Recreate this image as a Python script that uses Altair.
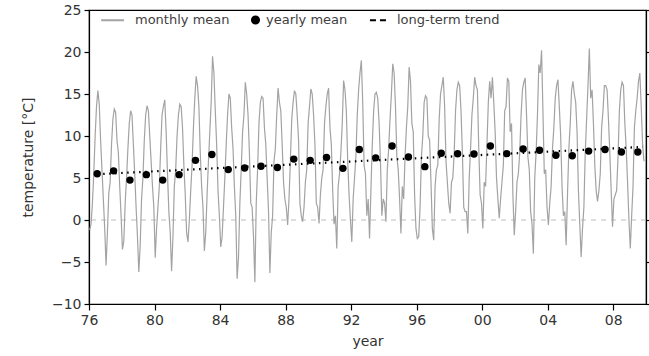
import altair as alt
import pandas as pd

# ---------------- data ----------------
first_year = 1976
monthly_mean = [
    -1.2, -0.5, 2.0, 5.5, 10.0, 13.5, 15.4, 13.8, 9.5, 6.0, 2.5, -1.0,      # 1976
    -5.4, -1.5, 3.2, 4.5, 9.0, 12.0, 13.2, 12.8, 9.5, 8.0, 4.0, 0.5,        # 1977
    -3.5, -2.5, 2.0, 5.0, 8.5, 11.5, 13.0, 12.5, 9.0, 5.5, 1.5, -2.0,       # 1978
    -6.2, -3.0, 2.5, 5.0, 9.5, 12.5, 13.6, 13.0, 10.0, 7.0, 4.0, 1.5,       # 1979
    -4.5, -1.0, 1.5, 4.0, 8.5, 12.5, 13.5, 14.3, 10.5, 5.5, 1.0, -1.5,      # 1980
    -6.1, -2.0, 4.0, 6.0, 10.0, 12.5, 13.8, 13.5, 11.0, 6.5, 3.0, -1.5,     # 1981
    -2.6, 0.0, 3.5, 6.5, 11.0, 14.5, 17.1, 16.0, 13.5, 8.0, 4.0, 1.5,       # 1982
    -3.7, -1.5, 3.0, 7.0, 10.5, 14.0, 19.5, 17.5, 13.0, 9.0, 3.5, 0.5,      # 1983
    -3.2, -2.0, 1.5, 5.0, 9.0, 12.5, 15.0, 14.5, 11.0, 8.5, 4.0, 0.5,       # 1984
    -7.0, -4.5, 2.0, 6.0, 10.5, 12.5, 16.4, 15.0, 12.5, 8.0, 2.0, 1.5,      # 1985
    -2.0, -7.4, 2.0, 6.0, 11.5, 14.0, 14.7, 14.5, 11.0, 9.0, 5.0, 1.0,      # 1986
    -6.3, -1.5, 0.5, 7.0, 8.5, 12.5, 15.7, 14.0, 13.0, 9.0, 4.5, 2.5,       # 1987
    1.5, -0.6, 2.5, 7.0, 12.0, 14.0, 15.4, 15.0, 12.5, 9.5, 2.0, 0.5,       # 1988
    -0.2, 1.5, 4.5, 6.0, 11.5, 13.5, 15.6, 15.0, 12.5, 9.0, 2.0, 1.5,       # 1989
    -0.4, 3.0, 5.0, 6.0, 11.5, 13.5, 15.0, 15.7, 11.0, 9.0, 3.5, -0.5,      # 1990
    0.5, -3.4, 4.0, 5.5, 8.0, 11.5, 16.6, 15.5, 13.0, 7.0, 3.0, 0.0,        # 1991
    -2.6, 2.5, 5.0, 7.5, 12.5, 15.5, 17.5, 19.0, 14.0, 6.5, 5.5, 0.5,       # 1992
    2.5, -2.2, 3.5, 9.0, 13.0, 15.0, 15.2, 14.5, 11.5, 7.0, 0.5, 2.5,       # 1993
    2.0, -0.2, 6.0, 8.5, 12.0, 15.0, 18.6, 17.5, 13.5, 7.5, 6.0, 2.5,       # 1994
    -1.6, 4.0, 2.5, 7.5, 11.0, 13.5, 18.2, 16.5, 11.5, 10.5, 3.0, -1.0,     # 1995
    -2.2, -2.0, 1.5, 7.5, 10.0, 14.0, 14.8, 14.5, 10.0, 9.5, 4.5, -1.0,     # 1996
    -2.4, 4.0, 6.0, 6.5, 12.0, 15.0, 16.0, 17.0, 13.5, 7.0, 4.5, 2.0,       # 1997
    0.8, 4.5, 5.0, 8.0, 13.0, 15.5, 16.4, 16.0, 13.0, 8.0, 1.5, 1.0,        # 1998
    1.0, -1.6, 5.0, 8.5, 12.5, 14.5, 17.0, 16.0, 15.5, 8.5, 3.0, 2.0,       # 1999
    -1.0, 4.5, 4.0, 9.0, 14.0, 16.5, 14.5, 17.0, 14.0, 10.5, 5.0, 2.5,      # 2000
    0.2, 2.5, 4.5, 6.5, 13.0, 13.5, 16.9, 16.5, 10.5, 11.5, 3.0, -1.8,      # 2001
    1.0, 4.5, 5.5, 8.0, 12.5, 15.5, 16.4, 16.9, 12.5, 7.5, 6.0, 1.0,        # 2002
    -0.5, -4.0, 5.0, 8.0, 12.5, 18.5, 17.5, 20.2, 13.0, 5.5, 6.0, 1.5,      # 2003
    -0.6, 2.0, 4.0, 8.5, 11.0, 14.5, 16.0, 16.7, 13.5, 10.0, 4.0, 0.5,      # 2004
    1.0, -3.0, 3.0, 8.5, 11.5, 15.5, 16.5, 15.0, 14.0, 10.5, 3.5, -0.5,     # 2005
    -4.4, -1.0, 1.5, 8.0, 12.0, 16.0, 20.4, 14.5, 15.5, 11.5, 6.5, 3.5,     # 2006
    2.2, 3.5, 5.5, 11.0, 13.0, 16.0, 16.0, 15.5, 12.0, 8.0, 3.5, -0.8,      # 2007
    2.5, 3.0, 3.5, 7.5, 13.0, 15.5, 16.4, 16.0, 11.5, 8.5, 4.5, 0.0,        # 2008
    -3.4, 0.5, 4.0, 11.0, 13.0, 14.5, 16.5, 17.5, 13.5, 9.0, 7.0,           # 2009
]

yearly_years = list(range(1976, 2010))
yearly_mean = [5.5, 5.85, 4.75, 5.4, 4.75, 5.4, 7.1, 7.8, 6.0, 6.2,
               6.4, 6.25, 7.25, 7.1, 7.45, 6.15, 8.4, 7.4, 8.8, 7.5,
               6.35, 7.95, 7.9, 7.85, 8.8, 7.9, 8.45, 8.3, 7.7, 7.65,
               8.2, 8.4, 8.1, 8.1]

trend_years = [1976.5, 2009.8]
trend_values = [5.45, 8.7]

x_ticks = [1976, 1980, 1984, 1988, 1992, 1996, 2000, 2004, 2008]
y_ticks = [-10, -5, 0, 5, 10, 15, 20, 25]
series_names = ["monthly mean", "yearly mean", "long-term trend"]

# ---------------- tables ----------------
monthly_df = pd.DataFrame({
    "year": [first_year + i // 12 + (i % 12 + 0.5) / 12 for i in range(len(monthly_mean))],
    "temp": monthly_mean,
    "series": series_names[0],
})
yearly_df = pd.DataFrame({
    "year": [y + 0.5 for y in yearly_years],
    "temp": yearly_mean,
    "series": series_names[1],
})
trend_df = pd.DataFrame({"year": trend_years, "temp": trend_values, "series": series_names[2]})
zero_df = pd.DataFrame({"temp": [0]})

FONT = "DejaVu Sans"
TXT = "#333333"

x_enc = alt.X(
    "year:Q",
    scale=alt.Scale(domain=[1976, 2010], nice=False, zero=False),
    axis=alt.Axis(
        values=x_ticks,
        labelExpr="(datum.value % 100) < 10 ? '0' + (datum.value % 100) : '' + (datum.value % 100)",
        tickSize=6, labelPadding=3, titlePadding=7, grid=False, labelFlush=False,
    ),
    title="year",
)
y_scale = alt.Scale(domain=[-10, 25], nice=False, zero=False)
y_axis = alt.Axis(values=y_ticks, tickSize=5, labelPadding=3, titlePadding=16, grid=False,
                  labelFlush=False)
y_enc = alt.Y("temp:Q", scale=y_scale, axis=y_axis, title="temperature [°C]")

legend = alt.Legend(
    title=None, orient="none", legendX=29, legendY=3, direction="horizontal",
    labelFontSize=13, labelColor="#404040", labelFont=FONT, labelOffset=4,
    columnPadding=17, symbolStrokeWidth=2, padding=0, symbolSize=50,
)
color_enc = alt.Color(
    "series:N",
    scale=alt.Scale(domain=series_names, range=["#a3a3a3", "#000000", "#000000"]),
    legend=legend,
)

monthly = alt.Chart(monthly_df).mark_line(strokeWidth=1.2).encode(
    x=x_enc, y=y_enc, color=color_enc,
)
points = alt.Chart(yearly_df).mark_point(filled=True, opacity=1, size=55).encode(
    x=x_enc, y=y_enc, color=color_enc,
    shape=alt.Shape(
        "series:N",
        scale=alt.Scale(
            domain=series_names,
            range=["M-6.6,0H-0.15", "circle", "M-4.68,0H-2.98M-1.85,0H-0.15"],
        ),
        legend=legend,
    ),
)
trend = alt.Chart(trend_df).mark_line(strokeWidth=2.2, strokeDash=[1.5, 4.5]).encode(
    x=x_enc, y=y_enc, color=color_enc,
)
zero = alt.Chart(zero_df).mark_rule(color="#bdbdbd", strokeDash=[5, 5], strokeWidth=1).encode(
    y=alt.Y("temp:Q", scale=y_scale, axis=y_axis, title="temperature [°C]"),
)
right_ticks = alt.Chart(zero_df).mark_rule(opacity=0).encode(
    y=alt.Y(
        "temp:Q", scale=y_scale,
        axis=alt.Axis(orient="right", values=y_ticks, labels=False, tickSize=5, grid=False, title=None),
    ),
)

main = alt.layer(zero, monthly, trend, points)
chart = (
    alt.layer(main, right_ticks)
    .resolve_scale(y="independent")
    .properties(width=557, height=294, autosize="none",
                padding={"left": 89, "top": 10, "right": 3, "bottom": 52})
    .configure(font=FONT)
    .configure_view(stroke="#000000", strokeWidth=1.2)
    .configure_axis(
        domainColor="#000000", tickColor="#000000", domainWidth=1.2, tickWidth=1.2,
        labelFontSize=14, titleFontSize=14, labelColor=TXT, titleColor=TXT,
        titleFontWeight="normal", labelFont=FONT, titleFont=FONT,
    )
)

chart.save("out.html", embed_options={"renderer": "svg", "actions": False})
